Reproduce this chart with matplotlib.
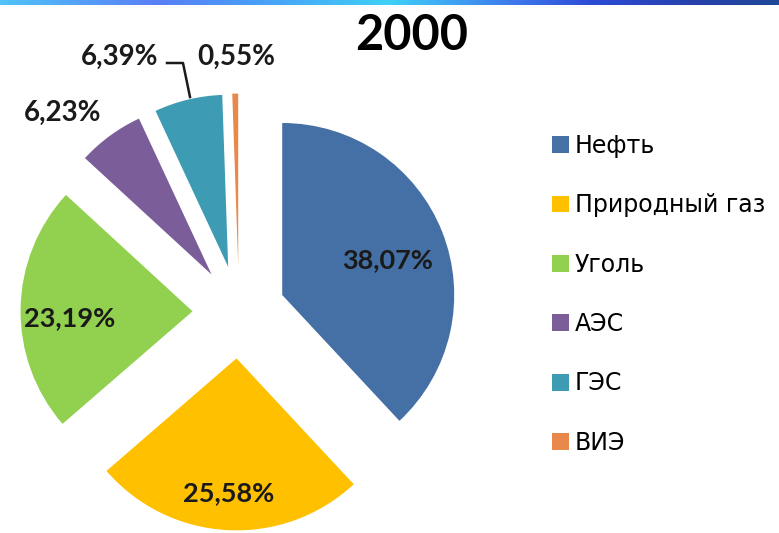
import numpy as np
import matplotlib
matplotlib.use("Agg")
import matplotlib.pyplot as plt
from matplotlib.colors import LinearSegmentedColormap

title = "2000"
labels = ["Нефть", "Природный газ", "Уголь", "АЭС", "ГЭС", "ВИЭ"]
shares = [38.07, 25.58, 23.19, 6.23, 6.39, 0.55]
pct_text = ["38,07%", "25,58%", "23,19%", "6,23%", "6,39%", "0,55%"]
colors = ["#4570A6", "#FFC000", "#92D050", "#7B5D99", "#3D9BB3", "#E8884A"]

W, H = 779, 533
fig = plt.figure(figsize=(W / 100, H / 100), dpi=100)

# gradient strip along the top edge
bar_ax = fig.add_axes([0, 1 - 5 / H, 1, 5 / H])
grad_cmap = LinearSegmentedColormap.from_list("strip", [
    (0.00, "#50C4F8"), (0.20, "#5A7EF5"), (0.32, "#4A9CF5"),
    (0.50, "#3ED0F8"), (0.66, "#3F78EC"), (0.76, "#2D4CD6"),
    (0.90, "#2640A8"), (1.00, "#1E4898")])
bar_ax.imshow(np.linspace(0, 1, 256)[None, :], aspect="auto", cmap=grad_cmap)
bar_ax.axis("off")

# pie axes, calibrated in pixel units: radius 172 px, centre at (239, 312)
R, cx, cy = 172, 239, 312
ax = fig.add_axes([0, 0, 1, 1 - 5 / H])


def px(x, y):
    return (x - cx) / R, (cy - y) / R


wedges, _ = ax.pie(shares, colors=colors, startangle=90, counterclock=False,
                   explode=[0.27] * len(shares), radius=1,
                   wedgeprops=dict(linewidth=0))
ax.set_aspect("auto")
ax.set_xlim(-cx / R, (W - cx) / R)
ax.set_ylim(-(H - cy) / R, (cy - 5) / R)
ax.axis("off")

lbl_font = dict(family="Lato", fontweight="bold", color="#1a1a1a",
                ha="center", va="center")
label_pos = [(388, 260), (229, 493), (70, 318), (63, 113), (120, 57), (236, 57)]
label_size = [19.5, 19.5, 19.5, 20, 20, 20]
for t, (x, y), s in zip(pct_text, label_pos, label_size):
    ax.text(*px(x, y), t, fontsize=s, **lbl_font)

# leader line for the ГЭС label
pts = [px(167, 63), px(183, 63), px(190, 97)]
ax.plot([p[0] for p in pts], [p[1] for p in pts], color="#1a1a1a", lw=1.8)

fig.text(412 / W, 1 - 36 / H, title, family="Lato", fontweight="bold",
         fontsize=35, ha="center", va="center", color="black")

leg = fig.legend(wedges, labels, loc="upper left",
                 bbox_to_anchor=(540 / W, 1 - 122 / H), frameon=False,
                 prop=dict(family="DejaVu Sans", size=17),
                 handlelength=0.72, handleheight=0.72, handletextpad=0.25,
                 labelspacing=1.5, borderpad=0)

fig.savefig("out.png", dpi=100)
